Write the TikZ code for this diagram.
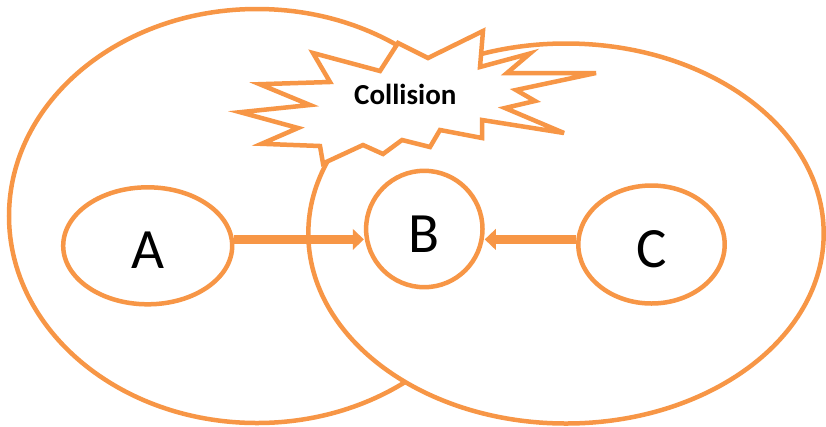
\documentclass[tikz,border=0pt]{standalone}
\usepackage{fontspec}
\newfontfamily\calib{Carlito}
\usetikzlibrary{shapes.geometric,arrows.meta}
\definecolor{acc}{HTML}{F79646}
\begin{document}
\begin{tikzpicture}[x=1pt,y=-1pt,
  outl/.style={draw=acc, line width=4.5pt, line join=miter, miter limit=8},
  big/.style={outl, ellipse, inner sep=0pt, fill=white},
  letter/.style={outl, ellipse, inner sep=0pt, fill=white,
    font=\calib\fontsize{57}{57}\selectfont, text depth=0pt},
  link/.style={draw=acc, line width=9pt,
    -{Triangle[length=11pt,width=21pt,line width=0pt]}},
  burst/.style={outl, fill=white},
  bursttext/.style={font=\calib\bfseries\fontsize{29}{29}\selectfont, anchor=base}]
\useasboundingbox (0,0) rectangle (826,426);
% two large overlapping ellipses
\node[big, minimum width=496pt, minimum height=414pt] (L) at (257,216) {};
\node[big, minimum width=515.4pt, minimum height=380pt] (R) at (566,233.5) {};
% explosion shape
\draw[burst] (313,53) -- (380,71) -- (398,43) -- (428,58) -- (483,31)
  -- (480,67) -- (530,53.5) -- (507,73) -- (596,73) -- (516,90)
  -- (535,101) -- (505,108) -- (564,133) -- (482,120) -- (482,138)
  -- (440,130) -- (430,147) -- (402,140) -- (383,154) -- (363,145)
  -- (323,163.5) -- (320,146) -- (261.6,143.8) -- (298,128) -- (240.2,112.2)
  -- (310,105) -- (259.7,84.2) -- (330,82) -- cycle;
\node[bursttext] (coll) at (405.3,104) {Collision};
% inner nodes
\node[letter, minimum width=169pt, minimum height=117pt, text height=44.6pt] (A) at (147.7,245.8) {A};
\node[letter, minimum width=116.4pt, minimum height=116.4pt, text height=47.6pt] (B) at (424.3,229) {B};
\node[letter, minimum width=146.4pt, minimum height=118pt, text height=46.6pt] (C) at (651.5,244.5) {C};
% connectors
\coordinate (ay) at (0,239.4);
\draw[link] (A.east |- ay) -- (B.west |- ay);
\draw[link] (C.west |- ay) -- (B.east |- ay);
\end{tikzpicture}
\end{document}
